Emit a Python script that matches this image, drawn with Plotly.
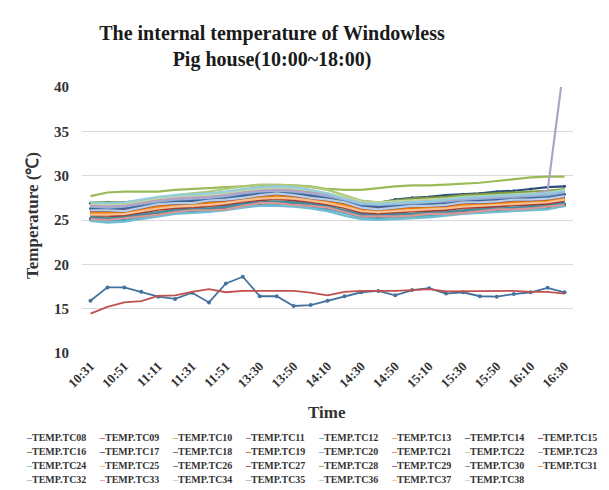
import plotly.graph_objects as go

times = ["10:31", "10:41", "10:51", "11:01", "11:11", "11:21", "11:31", "11:41", "11:51",
         "13:20", "13:30", "13:40", "13:50", "14:00", "14:10", "14:20", "14:30", "14:40",
         "14:50", "15:00", "15:10", "15:20", "15:30", "15:40", "15:50", "16:00", "16:10",
         "16:20", "16:30"]
tick_labels = ["10:31", "10:51", "11:11", "11:31", "11:51", "13:30", "13:50", "14:10",
               "14:30", "14:50", "15:10", "15:30", "15:50", "16:10", "16:30"]

tc08 = [15.9, 17.4, 17.4, 16.9, 16.35, 16.1, 16.8, 15.7, 17.85, 18.6, 16.4, 16.4, 15.3, 15.4, 15.9, 16.4, 16.85, 17.0, 16.5, 17.1, 17.3, 16.7, 16.85, 16.4, 16.35, 16.65, 16.85, 17.35, 16.85]
tc09 = [14.45, 15.2, 15.7, 15.85, 16.45, 16.5, 16.9, 17.2, 16.85, 17.0, 17.0, 17.0, 17.0, 16.8, 16.5, 16.9, 17.0, 17.0, 17.0, 17.1, 17.2, 16.95, 16.95, 16.95, 16.95, 17.0, 16.9, 16.9, 16.7]
tc10 = [27.7, 28.1, 28.2, 28.2, 28.2, 28.4, 28.5, 28.6, 28.7, 28.8, 28.9, 28.9, 28.9, 28.8, 28.5, 28.4, 28.4, 28.6, 28.8, 28.9, 28.9, 29.0, 29.1, 29.2, 29.4, 29.6, 29.8, 29.9, 29.9]
tc11 = [26.6, 26.5, 26.7, 26.9, 27.1, 27.4, 27.6, 27.6, 27.8, 28.1, 28.3, 28.3, 28.3, 28.0, 27.8, 27.3, 26.9, 26.8, 26.8, 27.0, 27.1, 27.3, 27.4, 27.5, 27.6, 27.8, 27.8, 27.9, 28.2]
tc12 = [25.0, 24.9, 25.0, 25.3, 25.6, 25.8, 25.9, 26.0, 26.2, 26.5, 26.7, 26.8, 26.7, 26.5, 26.2, 25.8, 25.3, 25.2, 25.3, 25.4, 25.5, 25.6, 25.8, 25.9, 26.0, 26.1, 26.2, 26.3, 26.6]
tc13 = [25.6, 25.5, 25.7, 25.9, 26.1, 26.4, 26.6, 26.6, 26.7, 27.1, 27.4, 27.4, 27.2, 27.1, 26.9, 26.4, 25.9, 25.9, 25.9, 26.0, 26.2, 26.2, 26.3, 26.5, 26.7, 26.7, 26.8, 27.0, 27.2]
tc14 = [26.9, 27.0, 27.0, 27.1, 27.3, 27.4, 27.5, 27.6, 27.7, 27.9, 28.0, 28.1, 28.0, 27.9, 27.7, 27.3, 26.9, 26.9, 27.3, 27.5, 27.6, 27.8, 27.9, 28.0, 28.2, 28.3, 28.5, 28.7, 28.8]
tc15 = [26.2, 26.2, 26.3, 26.5, 26.7, 27.0, 27.2, 27.2, 27.3, 27.7, 28.0, 28.0, 27.8, 27.7, 27.5, 27.0, 26.5, 26.3, 26.5, 26.6, 26.8, 26.8, 26.9, 27.1, 27.3, 27.3, 27.4, 27.6, 27.8]
tc16 = [25.9, 25.8, 25.8, 26.0, 26.4, 26.6, 26.7, 26.8, 27.0, 27.3, 27.5, 27.6, 27.5, 27.3, 27.0, 26.6, 26.1, 26.0, 26.1, 26.2, 26.3, 26.4, 26.6, 26.7, 26.8, 26.9, 27.0, 27.1, 27.4]
tc17 = [26.4, 26.4, 26.3, 26.7, 27.1, 27.2, 27.2, 27.5, 27.6, 27.8, 28.1, 28.3, 28.1, 27.8, 27.6, 27.3, 26.7, 26.5, 26.7, 26.9, 26.9, 27.0, 27.3, 27.3, 27.4, 27.6, 27.6, 27.7, 28.0]
tc18 = [25.2, 25.1, 25.2, 25.5, 25.8, 26.0, 26.1, 26.2, 26.4, 26.7, 26.9, 27.0, 26.9, 26.7, 26.4, 26.0, 25.5, 25.4, 25.5, 25.6, 25.7, 25.8, 26.0, 26.1, 26.2, 26.3, 26.4, 26.5, 26.8]
tc19 = [25.9, 25.8, 26.0, 26.2, 26.4, 26.7, 26.9, 26.9, 27.0, 27.4, 27.7, 27.7, 27.5, 27.4, 27.2, 26.7, 26.2, 26.2, 26.2, 26.3, 26.5, 26.5, 26.6, 26.8, 27.0, 27.0, 27.1, 27.3, 27.5]
tc20 = [26.7, 26.6, 26.7, 27.0, 27.3, 27.5, 27.6, 27.7, 27.9, 28.2, 28.4, 28.5, 28.4, 28.2, 27.9, 27.5, 27.0, 26.9, 27.0, 27.1, 27.2, 27.3, 27.5, 27.6, 27.7, 27.8, 27.9, 28.0, 28.3]
tc21 = [25.7, 25.7, 25.6, 26.0, 26.4, 26.5, 26.5, 26.8, 26.9, 27.1, 27.4, 27.6, 27.4, 27.1, 26.9, 26.6, 26.0, 25.8, 26.0, 26.2, 26.2, 26.3, 26.6, 26.6, 26.7, 26.9, 26.9, 27.0, 27.3]
tc22 = [26.7, 26.8, 26.9, 27.2, 27.5, 27.8, 28.0, 28.2, 28.5, 28.8, 29.0, 29.0, 28.9, 28.7, 28.4, 27.8, 27.2, 27.0, 27.1, 27.3, 27.4, 27.5, 27.7, 27.8, 27.9, 28.0, 28.1, 28.2, 28.4]
tc23 = [26.1, 26.0, 26.1, 26.4, 26.7, 26.9, 27.0, 27.1, 27.3, 27.6, 27.8, 27.9, 27.8, 27.6, 27.3, 26.9, 26.4, 26.3, 26.4, 26.5, 26.6, 26.7, 26.9, 27.0, 27.1, 27.2, 27.3, 27.4, 27.7]
tc24 = [24.9, 24.7, 24.8, 25.1, 25.4, 25.7, 25.8, 25.9, 26.1, 26.4, 26.6, 26.6, 26.5, 26.3, 26.0, 25.5, 25.1, 25.0, 25.1, 25.2, 25.3, 25.5, 25.7, 25.8, 25.9, 26.0, 26.1, 26.2, 26.6]
tc25 = [25.4, 25.4, 25.5, 25.7, 25.9, 26.2, 26.4, 26.4, 26.5, 26.9, 27.2, 27.2, 27.0, 26.9, 26.7, 26.2, 25.7, 25.7, 25.7, 25.8, 26.0, 26.0, 26.1, 26.3, 26.5, 26.5, 26.6, 26.8, 27.0]
tc26 = [26.3, 26.2, 26.3, 26.6, 26.9, 27.1, 27.2, 27.3, 27.5, 27.8, 28.0, 28.1, 28.0, 27.8, 27.5, 27.1, 26.6, 26.5, 26.6, 26.7, 26.8, 26.9, 27.1, 27.2, 27.3, 27.4, 27.5, 27.6, 27.9]
tc27 = [25.5, 25.5, 25.4, 25.8, 26.2, 26.3, 26.3, 26.6, 26.7, 26.9, 27.2, 27.4, 27.2, 26.9, 26.7, 26.4, 25.8, 25.6, 25.8, 26.0, 26.0, 26.1, 26.4, 26.4, 26.5, 26.7, 26.7, 26.8, 27.1]
tc28 = [27.0, 27.0, 27.0, 27.2, 27.4, 27.5, 27.6, 27.7, 27.9, 28.2, 28.4, 28.5, 28.4, 28.2, 27.9, 27.5, 27.1, 27.0, 27.2, 27.4, 27.5, 27.6, 27.8, 27.9, 28.0, 28.1, 28.2, 28.3, 28.5]
tc29 = [26.0, 25.9, 26.1, 26.3, 26.5, 26.8, 27.0, 27.0, 27.1, 27.5, 27.8, 27.8, 27.6, 27.5, 27.3, 26.8, 26.3, 26.3, 26.3, 26.4, 26.6, 26.6, 26.7, 26.9, 27.1, 27.1, 27.2, 27.4, 27.6]
tc30 = [25.3, 25.2, 25.3, 25.6, 25.9, 26.1, 26.2, 26.3, 26.5, 26.8, 27.0, 27.1, 27.0, 26.8, 26.5, 26.1, 25.6, 25.5, 25.6, 25.7, 25.8, 25.9, 26.1, 26.2, 26.3, 26.4, 26.5, 26.6, 26.9]
tc31 = [25.8, 25.8, 25.7, 26.1, 26.5, 26.6, 26.6, 26.9, 27.0, 27.2, 27.5, 27.7, 27.5, 27.2, 27.0, 26.7, 26.1, 25.9, 26.1, 26.3, 26.3, 26.4, 26.7, 26.7, 26.8, 27.0, 27.0, 27.1, 27.4]
tc32 = [26.5, 26.4, 26.5, 26.8, 27.1, 27.3, 27.4, 27.5, 27.7, 28.0, 28.2, 28.3, 28.2, 28.0, 27.7, 27.3, 26.8, 26.7, 26.8, 26.9, 27.0, 27.1, 27.3, 27.4, 27.5, 27.6, 27.7, 27.8, 28.1]
tc33 = [25.1, 25.0, 25.2, 25.4, 25.6, 25.9, 26.1, 26.1, 26.2, 26.6, 26.9, 26.9, 26.7, 26.6, 26.4, 25.9, 25.4, 25.4, 25.4, 25.5, 25.7, 25.7, 25.8, 26.0, 26.2, 26.2, 26.3, 26.5, 26.7]
tc34 = [26.8, 26.7, 26.8, 27.1, 27.4, 27.6, 27.7, 27.8, 28.0, 28.3, 28.5, 28.6, 28.5, 28.3, 28.0, 27.6, 27.1, 27.0, 27.1, 27.2, 27.3, 27.4, 27.6, 27.7, 27.8, 27.9, 28.0, 28.1, 28.4]
tc35 = [26.6, 26.5, 26.6, 26.9, 27.2, 27.4, 27.5, 27.6, 27.8, 28.1, 28.3, 28.4, 28.3, 28.1, 27.8, 27.4, 26.9, 26.8, 26.9, 27.0, 27.1, 27.2, 27.4, 27.5, 27.6, 27.7, 27.8, 28.3, 43.0]
tc36 = [27.0, 26.9, 27.0, 27.3, 27.6, 27.8, 27.9, 28.0, 28.2, 28.5, 28.7, 28.8, 28.7, 28.4, 28.0, 27.4, 26.9, 26.8, 26.9, 27.0, 27.1, 27.3, 27.5, 27.6, 27.7, 27.8, 27.9, 28.0, 28.3]
tc37 = [25.6, 25.6, 25.7, 26.0, 26.3, 26.5, 26.6, 26.7, 26.9, 27.2, 27.4, 27.5, 27.4, 27.2, 26.9, 26.5, 26.0, 25.9, 26.0, 26.1, 26.2, 26.3, 26.5, 26.6, 26.7, 26.8, 26.9, 27.0, 27.3]
tc38 = [26.1, 26.1, 26.0, 26.4, 26.8, 26.9, 26.9, 27.2, 27.3, 27.5, 27.8, 28.0, 27.8, 27.5, 27.3, 27.0, 26.4, 26.2, 26.4, 26.6, 26.6, 26.7, 27.0, 27.0, 27.1, 27.3, 27.3, 27.4, 27.7]

names = ["TEMP.TC%02d" % i for i in range(8, 39)]
values = [tc08, tc09, tc10, tc11, tc12, tc13, tc14, tc15, tc16, tc17, tc18, tc19, tc20, tc21,
          tc22, tc23, tc24, tc25, tc26, tc27, tc28, tc29, tc30, tc31, tc32, tc33, tc34, tc35,
          tc36, tc37, tc38]
colors = ["#44729F", "#C0504D", "#9BBB59", "#8064A2", "#4BACC6", "#F79646",
          "#2C4D75", "#772C2A", "#5F7530", "#4D3B62", "#276A7C", "#B65708",
          "#729ACA", "#CD7371", "#AFC97A", "#9983B5", "#6FBDD1", "#F9AB6B",
          "#3A679C", "#9E3A38", "#7E9C40", "#664F83", "#3C8DA3", "#F07F09",
          "#95B3D7", "#D99694", "#C3D69B", "#B3A2C7", "#93CDDD", "#FAC090", "#B9CDE5"]
marker_series = {"TEMP.TC08", "TEMP.TC12", "TEMP.TC14", "TEMP.TC18", "TEMP.TC26"}

FONT = "Liberation Serif"
OFF = 8  # page body margin in the browser
W, H = 609 - OFF, 490 - OFF
L, R, T, B = 82 - OFF, 36, 87 - OFF, 137
PW, PH = W - L - R, H - T - B

fig = go.Figure()
order = list(range(2, len(names))) + [0, 1]
for i in order:
    n = names[i]
    has_m = n in marker_series
    fig.add_trace(go.Scatter(
        x=times, y=values[i], name=n,
        mode="lines+markers" if has_m else "lines",
        line=dict(color=colors[i], width=2.2 if i > 1 else 1.8),
        marker=dict(size=4 if n == "TEMP.TC08" else 3, color=colors[i]),
        showlegend=False,
    ))

def px_x(px):
    return (px - OFF - L) / PW

def px_y(py):
    return (H + OFF - B - py) / PH

annotations = []
for k, n in enumerate(names):
    r, c = divmod(k, 8)
    annotations.append(dict(
        x=px_x(24 + 73 * c), y=px_y(437 + 14 * r), xref="paper", yref="paper",
        xanchor="left", yanchor="middle", showarrow=False,
        text="<span style='color:%s'>–</span>%s" % (colors[k], n),
        font=dict(family=FONT, size=10, color="#333333", weight="bold"),
    ))
annotations.append(dict(
    x=px_x(327), y=px_y(413), xref="paper", yref="paper", showarrow=False,
    xanchor="center", yanchor="middle", text="Time",
    font=dict(family=FONT, size=17, color="#333333", weight="bold")))
annotations.append(dict(
    x=px_x(32), y=px_y(216), xref="paper", yref="paper", showarrow=False,
    xanchor="center", yanchor="middle", text="Temperature (℃)", textangle=-90,
    font=dict(family=FONT, size=17, color="#333333", weight="bold")))

fig.update_layout(
    width=W, height=H,
    margin=dict(l=L, r=R, t=T, b=B),
    paper_bgcolor="white", plot_bgcolor="white",
    title=dict(text="The internal temperature of Windowless<br>Pig house(10:00~18:00)",
               x=(272 - OFF) / W, xref="container", xanchor="center",
               y=1 - (40 - OFF) / H, yref="container", yanchor="middle",
               font=dict(family=FONT, size=20, color="#1a1a1a", weight="bold")),
    showlegend=False,
    annotations=annotations,
)
fig.update_xaxes(
    type="category", categoryorder="array", categoryarray=times,
    range=[-0.5, len(times) - 0.5],
    tickmode="array", tickvals=tick_labels, ticktext=tick_labels,
    tickangle=-45, showgrid=False, showline=False, zeroline=False, ticks="",
    ticklabelstandoff=2,
    tickfont=dict(family=FONT, size=13, color="#333333", weight="bold"),
)
fig.update_yaxes(
    range=[10, 40], dtick=5, tick0=10, showgrid=True, gridcolor="#D9D9D9", gridwidth=1,
    zeroline=False, showline=False, ticks="", ticklabelstandoff=12,
    tickfont=dict(family=FONT, size=15, color="#333333", weight="bold"),
)

fig.write_html("out.html")
